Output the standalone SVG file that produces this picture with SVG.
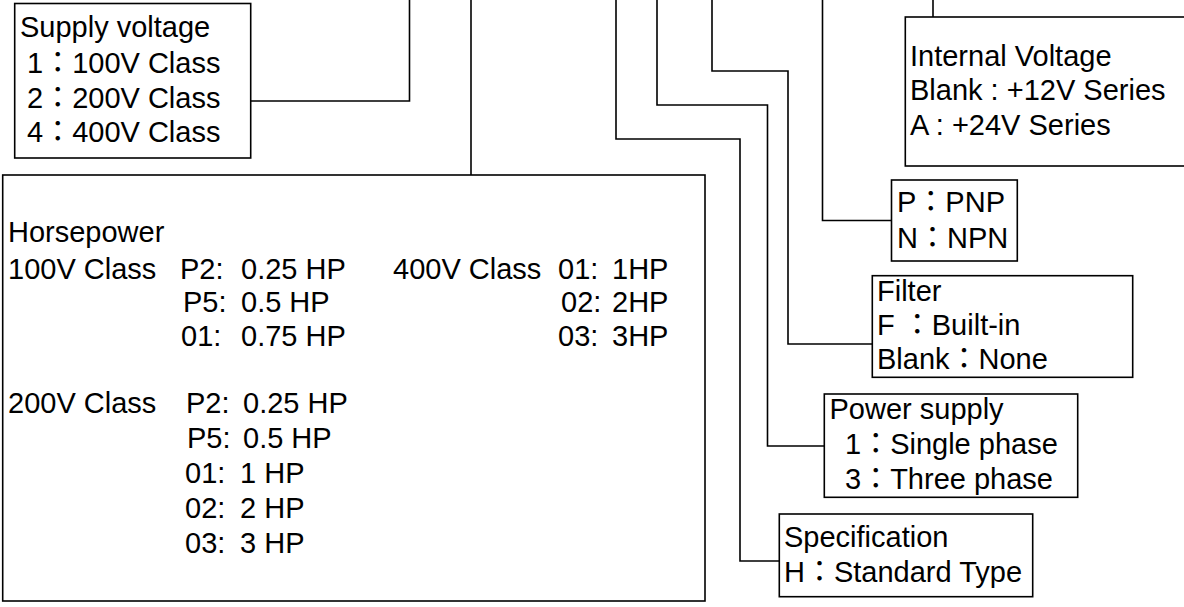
<svg xmlns="http://www.w3.org/2000/svg" width="1184" height="607" viewBox="0 0 1184 607">
<style>
.box{fill:#fff;stroke:#000;stroke-width:1.6}
.con{fill:none;stroke:#000;stroke-width:1.6}
text{font-family:"Liberation Sans","Noto Sans CJK TC",Arial,sans-serif;font-size:29px;fill:#000}
</style>
<rect width="1184" height="607" fill="#fff"/>
<g id="connectors">
<polyline class="con" points="250.7,101 409.5,101 409.5,0"/>
<polyline class="con" points="471,0 471,175"/>
<polyline class="con" points="616,0 616,139 740,139 740,561 779.3,561"/>
<polyline class="con" points="657,0 657,105 767.5,105 767.5,446 824.3,446"/>
<polyline class="con" points="712,0 712,71 788,71 788,344 872.3,344"/>
<polyline class="con" points="822.5,0 822.5,220.5 891.5,220.5"/>
<polyline class="con" points="933,0 933,17"/>
</g>
<g id="supply">
<rect class="box" x="14.7" y="3.5" width="236" height="154.5"/>
<text x="20" y="37">Supply voltage</text>
<text x="27" y="73">1：100V Class</text>
<text x="27" y="107.5">2：200V Class</text>
<text x="27" y="142">4：400V Class</text>
</g>
<g id="internal">
<rect class="box" x="905.3" y="17" width="300" height="149"/>
<text x="910" y="65.5">Internal Voltage</text>
<text x="910" y="100">Blank : +12V Series</text>
<text x="910" y="135">A : +24V Series</text>
</g>
<g id="pn">
<rect class="box" x="891.5" y="180" width="125.8" height="81"/>
<text x="897" y="212">P：PNP</text>
<text x="897" y="247.5">N：NPN</text>
</g>
<g id="filter">
<rect class="box" x="872.3" y="275.7" width="260.4" height="101.6"/>
<text x="877" y="300.5">Filter</text>
<text x="877" y="334.5">F ：Built-in</text>
<text x="877" y="369">Blank：None</text>
</g>
<g id="power">
<rect class="box" x="824.3" y="394" width="253.4" height="103.3"/>
<text x="829.5" y="418.5">Power supply</text>
<text x="845" y="454">1：Single phase</text>
<text x="845" y="488.5">3：Three phase</text>
</g>
<g id="spec">
<rect class="box" x="779.3" y="514" width="253.4" height="82.7"/>
<text x="784" y="546.5">Specification</text>
<text x="784" y="581.5">H：Standard Type</text>
</g>
<g id="horsepower">
<rect class="box" x="2.7" y="175" width="702.3" height="426"/>
<text x="8" y="242">Horsepower</text>
<text x="8" y="278.5">100V Class</text>
<text x="180" y="278.5">P2:</text>
<text x="241" y="278.5">0.25 HP</text>
<text x="393" y="278.5">400V Class</text>
<text x="558" y="278.5">01:</text>
<text x="612" y="278.5">1HP</text>
<text x="561" y="312">02:</text>
<text x="612" y="312">2HP</text>
<text x="558" y="345.5">03:</text>
<text x="612" y="345.5">3HP</text>
<text x="183" y="312">P5:</text>
<text x="241" y="312">0.5 HP</text>
<text x="181" y="345.5">01:</text>
<text x="241" y="345.5">0.75 HP</text>
<text x="8" y="413">200V Class</text>
<text x="186" y="413">P2:</text>
<text x="243" y="413">0.25 HP</text>
<text x="187" y="448">P5:</text>
<text x="243" y="448">0.5 HP</text>
<text x="185" y="483">01:</text>
<text x="240" y="483">1 HP</text>
<text x="185" y="518">02:</text>
<text x="240" y="518">2 HP</text>
<text x="185" y="553">03:</text>
<text x="240" y="553">3 HP</text>
</g>
</svg>
